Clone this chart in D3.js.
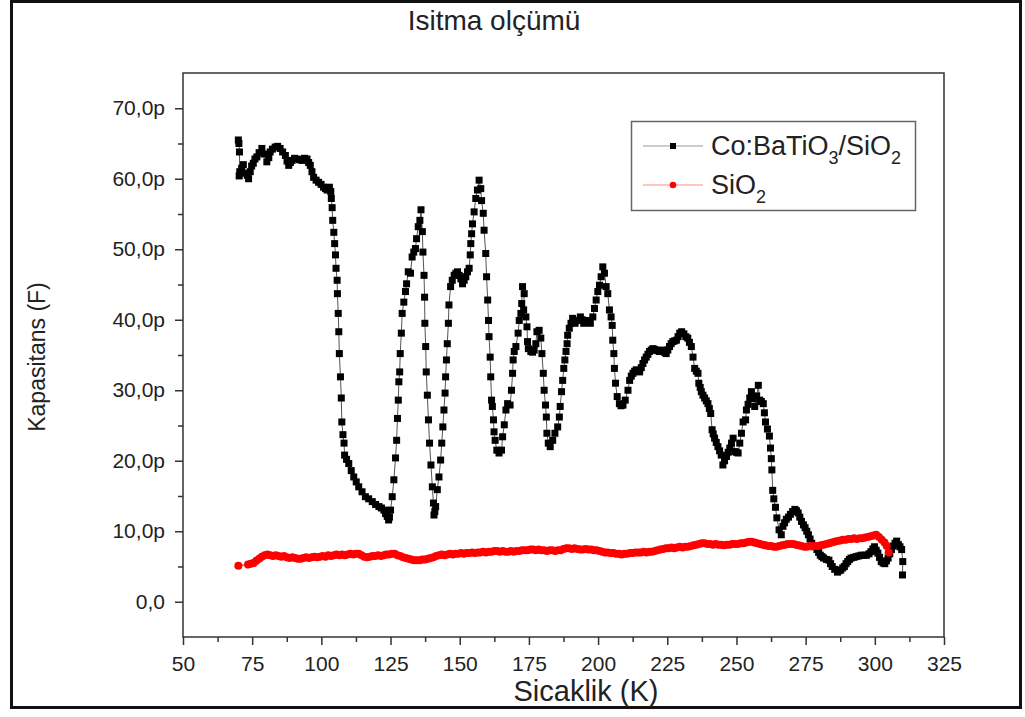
<!DOCTYPE html>
<html><head><meta charset="utf-8">
<script src="https://cdn.jsdelivr.net/npm/d3@7"></script>
<style>
body{margin:0;background:#fff}
svg{display:block}
text{font-family:"Liberation Sans",Arial,Helvetica,sans-serif;fill:#222}
</style>
</head><body>
<svg id="chart" width="1025" height="717"></svg>
<script>
const chartTitle = "Isitma olçümü";
const xAxisTitle = "Sicaklik (K)";
const yAxisTitle = "Kapasitans (F)";
const xTickValues = [50,75,100,125,150,175,200,225,250,275,300,325];
const xMinorTicks = [62.5,87.5,112.5,137.5,162.5,187.5,212.5,237.5,262.5,287.5,312.5];
const yTickValues = [0,10,20,30,40,50,60,70];
const yTickLabels = ["0,0","10,0p","20,0p","30,0p","40,0p","50,0p","60,0p","70,0p"];
const yMinorTicks = [5,15,25,35,45,55,65];
const seriesNames = ["Co:BaTiO3/SiO2","SiO2"];

// Co:BaTiO3/SiO2 : [temperature K, capacitance pF]
const coBaTiO3 = [[70.0,65.5],[70.2,65.0],[70.4,63.8],[70.5,61.0],[70.3,60.4],[71.2,61.5],[71.8,62.0],[72.5,60.8],[73.2,60.5],[73.7,60.0],[74.3,61.0],[74.8,61.8],[75.4,62.2],[76.0,62.8],[76.7,63.1],[77.5,63.7],[78.5,64.3],[79.3,63.5],[80.3,62.4],[81.0,63.0],[81.5,63.8],[82.3,64.2],[83.3,64.5],[84.2,64.6],[85.1,64.3],[86.0,63.8],[87.0,63.3],[87.6,62.5],[88.2,61.9],[88.8,62.3],[89.4,62.6],[90.3,62.9],[91.2,62.8],[92.1,62.7],[93.0,62.6],[93.9,62.9],[94.8,62.8],[95.4,62.3],[96.0,61.9],[96.6,61.0],[97.2,60.2],[98.1,59.8],[99.0,59.5],[99.9,59.2],[100.8,58.8],[101.5,58.6],[102.1,58.4],[102.9,58.8],[103.4,58.2],[103.6,57.2],[103.9,55.9],[104.1,54.1],[104.5,52.4],[104.8,50.8],[105.1,49.2],[105.3,47.3],[105.7,45.6],[105.8,43.7],[106.1,40.9],[106.3,38.3],[106.5,35.2],[106.9,31.9],[107.2,28.9],[107.4,25.5],[107.8,23.7],[108.2,22.5],[108.4,20.8],[109.1,20.2],[109.9,19.6],[110.8,18.6],[111.7,17.7],[112.6,17.0],[113.5,16.3],[114.7,15.6],[115.9,14.9],[117.1,14.6],[118.4,14.2],[119.6,13.8],[120.8,13.5],[121.7,13.3],[122.6,13.0],[123.2,12.5],[123.8,12.1],[124.3,11.6],[124.6,12.0],[125.0,13.0],[125.6,14.9],[126.2,17.3],[126.8,20.4],[127.2,22.9],[127.5,26.0],[127.8,28.6],[128.0,31.2],[128.3,32.6],[128.5,35.2],[128.9,38.1],[129.2,40.9],[129.8,42.5],[130.4,44.0],[130.8,45.1],[131.4,46.8],[132.2,46.6],[132.8,48.9],[133.4,49.6],[134.0,50.1],[134.4,51.5],[135.0,53.2],[135.6,54.1],[136.0,55.6],[136.5,52.5],[136.7,49.6],[137.1,46.3],[137.3,43.2],[137.4,39.5],[137.7,36.2],[137.9,32.6],[138.3,29.3],[138.7,25.8],[139.1,22.5],[139.6,19.4],[140.1,16.3],[140.5,14.0],[140.7,12.3],[141.0,12.8],[141.3,13.5],[141.9,15.9],[142.5,17.7],[143.1,20.1],[143.5,22.5],[143.9,24.8],[144.3,27.2],[144.7,29.6],[144.9,31.9],[145.2,34.3],[145.5,36.6],[145.9,39.5],[146.1,42.1],[146.7,44.7],[147.3,45.6],[148.0,46.3],[148.6,46.6],[149.2,46.8],[149.8,46.3],[150.4,45.8],[151.0,45.1],[151.6,45.6],[152.2,46.1],[152.8,46.8],[153.4,47.3],[153.8,49.2],[154.0,50.8],[154.3,52.2],[154.6,53.6],[155.2,55.3],[155.8,57.2],[156.4,58.4],[157.0,59.8],[157.6,58.6],[157.9,56.9],[158.5,55.1],[158.8,52.7],[159.4,49.4],[159.7,46.1],[160.1,42.8],[160.4,39.9],[160.6,37.6],[161.0,34.7],[161.2,31.9],[161.5,28.6],[161.8,27.7],[162.2,25.8],[162.4,24.1],[162.8,22.9],[163.4,21.5],[164.2,21.1],[165.1,21.5],[165.5,23.4],[166.1,25.1],[166.7,27.2],[167.3,28.1],[168.2,27.9],[168.7,30.0],[169.1,32.4],[169.3,34.3],[169.7,35.5],[170.3,36.2],[171.1,38.1],[171.5,39.9],[172.1,40.9],[172.4,42.3],[172.7,44.7],[173.3,43.7],[173.1,41.4],[173.9,40.4],[174.3,39.0],[174.5,36.9],[174.8,35.9],[175.7,35.5],[176.3,35.4],[176.9,35.7],[177.5,36.6],[177.9,38.3],[178.7,38.5],[179.3,37.4],[179.7,35.2],[180.2,32.4],[180.5,30.0],[181.0,27.9],[181.3,26.2],[181.5,23.9],[182.0,22.5],[182.7,22.0],[183.6,22.9],[184.4,23.9],[185.4,24.8],[186.0,26.2],[186.3,27.7],[186.8,29.8],[187.2,31.4],[187.6,33.1],[188.0,34.3],[188.4,35.5],[188.8,36.6],[189.0,37.8],[189.6,38.8],[190.2,39.5],[190.8,40.2],[191.7,39.5],[192.6,39.9],[193.6,40.4],[194.2,40.0],[194.8,39.5],[195.4,39.7],[196.0,39.9],[196.6,39.7],[197.2,39.5],[198.1,40.4],[198.7,41.6],[199.3,42.8],[199.9,44.0],[200.5,44.9],[201.1,46.1],[201.7,47.5],[202.3,46.6],[202.9,44.7],[203.5,43.7],[204.1,41.4],[204.7,40.4],[205.1,39.2],[205.3,37.1],[205.7,35.2],[205.9,33.1],[206.3,31.0],[206.9,29.1],[207.7,28.1],[208.3,27.8],[209.0,27.9],[209.8,28.6],[210.8,30.0],[211.4,31.4],[212.0,32.0],[212.6,32.4],[213.2,32.7],[213.8,32.9],[214.4,32.8],[215.0,32.6],[215.6,33.2],[216.2,33.8],[216.8,34.3],[217.4,34.7],[218.0,35.1],[218.6,35.5],[219.2,35.7],[219.8,35.9],[220.4,35.8],[221.0,35.7],[221.6,35.6],[222.2,35.5],[222.8,35.6],[223.4,35.7],[224.0,35.4],[224.6,35.2],[225.2,35.7],[225.8,36.2],[226.4,36.6],[227.0,36.9],[227.6,37.0],[228.3,37.1],[228.9,37.6],[229.5,38.1],[230.2,38.3],[231.0,38.0],[231.7,37.6],[232.4,37.4],[233.0,36.8],[233.7,36.2],[234.3,34.7],[234.9,33.1],[235.5,32.7],[236.1,32.4],[236.4,31.0],[236.9,30.4],[237.3,29.8],[237.9,29.3],[238.5,28.9],[239.1,28.5],[239.7,28.1],[240.2,27.4],[240.7,26.7],[241.2,24.4],[241.6,23.8],[242.1,23.2],[242.7,22.6],[243.3,22.0],[243.9,21.4],[244.5,20.8],[245.1,19.4],[245.7,20.0],[246.4,20.6],[247.0,21.2],[247.6,21.8],[248.2,22.5],[248.8,23.2],[249.4,21.3],[250.0,21.2],[250.6,21.1],[251.2,22.5],[251.8,23.9],[252.4,25.5],[253.3,25.8],[253.6,27.2],[254.2,28.0],[254.8,28.9],[255.4,29.8],[256.0,28.8],[256.6,27.7],[257.3,29.2],[257.9,30.7],[258.4,28.6],[259.0,28.4],[259.7,28.1],[260.1,26.8],[260.5,25.5],[261.2,24.5],[261.9,23.5],[262.3,21.8],[262.6,20.3],[262.8,18.7],[263.1,15.8],[263.5,14.6],[264.1,13.4],[264.6,11.9],[265.4,10.2],[266.2,9.5],[266.8,10.7],[267.4,11.2],[268.0,11.7],[268.8,12.0],[269.5,12.4],[270.3,12.8],[271.1,13.1],[271.7,12.9],[272.3,12.6],[272.9,12.0],[273.5,11.4],[274.2,10.9],[274.8,10.5],[275.4,10.0],[276.0,9.5],[276.6,8.9],[277.2,8.3],[278.1,7.8],[279.1,7.4],[279.7,7.0],[280.3,6.6],[280.9,6.4],[281.5,6.2],[282.5,6.0],[283.4,5.9],[284.0,5.4],[284.6,5.0],[285.5,4.6],[286.5,4.2],[287.1,4.4],[287.7,4.5],[288.4,4.8],[289.0,5.0],[289.6,5.4],[290.2,5.7],[290.8,6.0],[291.4,6.2],[292.4,6.3],[293.3,6.4],[294.2,6.5],[295.1,6.6],[296.0,6.6],[297.0,6.6],[297.9,6.8],[298.6,7.1],[299.3,7.5],[299.9,7.8],[300.5,7.3],[301.1,6.9],[301.7,6.3],[302.3,5.7],[303.0,5.5],[303.6,5.4],[304.2,5.8],[304.8,6.2],[305.4,6.8],[306.0,7.4],[306.6,7.9],[307.3,8.3],[307.9,8.6],[308.5,8.1],[309.1,7.8],[309.7,7.4],[310.1,5.7],[310.0,3.8]];

// SiO2 : [temperature K, capacitance pF]
const sio2 = [[70.0,5.1],[73.5,5.3],[74.5,5.4],[75.5,5.5],[76.5,5.8],[77.5,6.1],[78.5,6.4],[79.5,6.6],[80.5,6.7],[81.5,6.6],[82.5,6.5],[83.5,6.6],[84.5,6.5],[85.5,6.4],[86.5,6.5],[87.5,6.3],[88.5,6.2],[89.5,6.3],[90.5,6.2],[91.5,6.1],[92.5,6.1],[93.5,6.2],[94.5,6.3],[95.5,6.2],[96.5,6.3],[97.5,6.4],[98.5,6.3],[99.5,6.4],[100.5,6.5],[101.5,6.4],[102.5,6.6],[103.5,6.5],[104.5,6.6],[105.5,6.7],[106.5,6.6],[107.5,6.7],[108.5,6.6],[109.5,6.7],[110.5,6.8],[111.5,6.7],[112.5,6.8],[113.5,6.8],[114.5,6.6],[115.5,6.4],[116.5,6.3],[117.5,6.4],[118.5,6.5],[119.5,6.5],[120.5,6.6],[121.5,6.5],[122.5,6.6],[123.5,6.7],[124.5,6.7],[125.5,6.8],[126.5,6.8],[127.5,6.6],[128.5,6.5],[129.5,6.3],[130.5,6.2],[131.5,6.1],[132.5,6.0],[133.5,5.9],[134.5,5.9],[135.5,5.9],[136.5,6.0],[137.5,6.0],[138.5,6.1],[139.5,6.2],[140.5,6.3],[141.5,6.5],[142.5,6.6],[143.5,6.7],[144.5,6.6],[145.5,6.7],[146.5,6.8],[147.5,6.7],[148.5,6.8],[149.5,6.8],[150.5,6.9],[151.5,6.8],[152.5,6.9],[153.5,6.9],[154.5,7.0],[155.5,6.9],[156.5,7.0],[157.5,7.0],[158.5,7.1],[159.5,7.0],[160.5,7.1],[161.5,7.1],[162.5,7.2],[163.5,7.2],[164.5,7.1],[165.5,7.2],[166.5,7.1],[167.5,7.1],[168.5,7.2],[169.5,7.1],[170.5,7.2],[171.5,7.2],[172.5,7.3],[173.5,7.3],[174.5,7.3],[175.5,7.4],[176.5,7.4],[177.5,7.3],[178.5,7.4],[179.5,7.3],[180.5,7.3],[181.5,7.2],[182.5,7.3],[183.5,7.3],[184.5,7.2],[185.5,7.3],[186.5,7.3],[187.5,7.5],[188.5,7.6],[189.5,7.6],[190.5,7.5],[191.5,7.6],[192.5,7.5],[193.5,7.4],[194.5,7.4],[195.5,7.5],[196.5,7.4],[197.5,7.4],[198.5,7.3],[199.5,7.3],[200.5,7.2],[201.5,7.1],[202.5,7.0],[203.5,7.0],[204.5,6.9],[205.5,6.9],[206.5,6.8],[207.5,6.8],[208.5,6.7],[209.5,6.8],[210.5,6.8],[211.5,6.9],[212.5,6.9],[213.5,7.0],[214.5,7.0],[215.5,7.0],[216.5,7.1],[217.5,7.0],[218.5,7.1],[219.5,7.1],[220.5,7.2],[221.5,7.3],[222.5,7.4],[223.5,7.5],[224.5,7.6],[225.5,7.6],[226.5,7.7],[227.5,7.6],[228.5,7.7],[229.5,7.8],[230.5,7.7],[231.5,7.8],[232.5,7.8],[233.5,7.9],[234.5,8.0],[235.5,8.1],[236.5,8.2],[237.5,8.3],[238.5,8.3],[239.5,8.2],[240.5,8.2],[241.5,8.1],[242.5,8.2],[243.5,8.1],[244.5,8.1],[245.5,8.0],[246.5,8.1],[247.5,8.1],[248.5,8.2],[249.5,8.2],[250.5,8.2],[251.5,8.3],[252.5,8.3],[253.5,8.4],[254.5,8.5],[255.5,8.5],[256.5,8.4],[257.5,8.3],[258.5,8.2],[259.5,8.1],[260.5,8.0],[261.5,7.9],[262.5,7.9],[263.5,7.8],[264.5,7.8],[265.5,7.9],[266.5,8.0],[267.5,8.1],[268.5,8.2],[269.5,8.2],[270.5,8.2],[271.5,8.1],[272.5,8.0],[273.5,7.9],[274.5,7.8],[275.5,7.8],[276.5,7.9],[277.5,7.9],[278.5,7.9],[279.5,7.9],[280.5,8.0],[281.5,8.1],[282.5,8.2],[283.5,8.3],[284.5,8.4],[285.5,8.5],[286.5,8.6],[287.5,8.7],[288.5,8.8],[289.5,8.8],[290.5,8.9],[291.5,8.9],[292.5,9.0],[293.5,8.9],[294.5,9.0],[295.5,9.0],[296.5,9.1],[297.5,9.2],[298.5,9.3],[299.5,9.4],[300.5,9.5],[301.5,9.2],[302.5,8.8],[303.5,8.4],[304.3,7.9],[305.0,7.0]];

const W = 1025, H = 717;
const svg = d3.select("#chart");
svg.append("rect").attr("width",W).attr("height",H).attr("fill","#fff");

const x = d3.scaleLinear().domain([50,325]).range([183,944]);
const y = d3.scaleLinear().domain([-5,75]).range([637,73]);
const [x0,x1] = x.range(), [y0,y1] = y.range();

// outer frame
svg.append("rect").attr("x",11.5).attr("y",1.5).attr("width",1009).attr("height",706)
  .attr("fill","none").attr("stroke","#111").attr("stroke-width",3);

// title
svg.append("text").attr("x",494).attr("y",30).attr("text-anchor","middle")
  .attr("font-size",28).text(chartTitle);

// plot box
svg.append("rect").attr("x",x0).attr("y",y1).attr("width",x1-x0).attr("height",y0-y1)
  .attr("fill","none").attr("stroke","#333").attr("stroke-width",1.5);

// axes
function styleAxis(g){
  g.select(".domain").remove();
  g.selectAll(".tick line").attr("stroke","#333").attr("stroke-width",1.5);
  g.selectAll(".tick text").attr("fill","#222").attr("font-family","Liberation Sans, Arial, sans-serif");
}
const xAxis = svg.append("g").attr("transform",`translate(0,${y0})`)
  .call(d3.axisBottom(x).tickValues(xTickValues).tickSize(8).tickPadding(11).tickFormat(d3.format("d")));
styleAxis(xAxis); xAxis.selectAll(".tick text").attr("font-size",21);
const xMinor = svg.append("g").attr("transform",`translate(0,${y0})`)
  .call(d3.axisBottom(x).tickValues(xMinorTicks).tickSize(5).tickFormat(""));
styleAxis(xMinor);

const yAxis = svg.append("g").attr("transform",`translate(${x0},0)`)
  .call(d3.axisLeft(y).tickValues(yTickValues).tickSize(8).tickPadding(10)
    .tickFormat((d,i)=>yTickLabels[i]));
styleAxis(yAxis); yAxis.selectAll(".tick text").attr("font-size",21);
const yMinor = svg.append("g").attr("transform",`translate(${x0},0)`)
  .call(d3.axisLeft(y).tickValues(yMinorTicks).tickSize(5).tickFormat(""));
styleAxis(yMinor);

// axis titles
svg.append("text").attr("x",586).attr("y",701).attr("text-anchor","middle")
  .attr("font-size",29).text(xAxisTitle);
svg.append("text").attr("transform","translate(45,357) rotate(-90)").attr("text-anchor","middle")
  .attr("font-size",23).text(yAxisTitle);

// series
const line = d3.line().x(d=>x(d[0])).y(d=>y(d[1]));
const plot = svg.append("g");
plot.append("path").datum(sio2).attr("d",line).attr("fill","none").attr("stroke","#f00").attr("stroke-width",1);
plot.append("path").datum(coBaTiO3).attr("d",line).attr("fill","none").attr("stroke","#555").attr("stroke-width",1);
const S = 7;
plot.selectAll("rect.co").data(coBaTiO3).join("rect").attr("class","co")
  .attr("x",d=>x(d[0])-S/2).attr("y",d=>y(d[1])-S/2).attr("width",S).attr("height",S).attr("fill","#000");
plot.selectAll("circle.si").data(sio2).join("circle").attr("class","si")
  .attr("cx",d=>x(d[0])).attr("cy",d=>y(d[1])).attr("r",4).attr("fill","#f00");

// legend
const lg = svg.append("g");
lg.append("rect").attr("x",631.5).attr("y",121.5).attr("width",284).attr("height",89)
  .attr("fill","#fff").attr("stroke","#666").attr("stroke-width",1.5);
const rows = [{name:seriesNames[0], cy:146, color:"#999", mark:"sq"},{name:seriesNames[1], cy:185, color:"#f88", mark:"ci"}];
rows.forEach(r=>{
  lg.append("line").attr("x1",643).attr("x2",703).attr("y1",r.cy).attr("y2",r.cy).attr("stroke",r.color).attr("stroke-width",1);
  if(r.mark==="sq") lg.append("rect").attr("x",670).attr("y",r.cy-3).attr("width",6).attr("height",6).attr("fill","#000");
  else lg.append("circle").attr("cx",673).attr("cy",r.cy).attr("r",3.3).attr("fill","#f00");
  const t = lg.append("text").attr("x",711).attr("y",r.cy+9).attr("font-size",27);
  const parts = r.name.match(/[^0-9]+|[0-9]+/g);
  parts.forEach(p=>{
    if(/^[0-9]+$/.test(p)) t.append("tspan").attr("font-size",18).attr("dy",9).text(p);
    else { const ts = t.append("tspan").text(p); if(t.selectAll("tspan").size()>1) ts.attr("dy",-9); }
  });
});
</script>
</body></html>
